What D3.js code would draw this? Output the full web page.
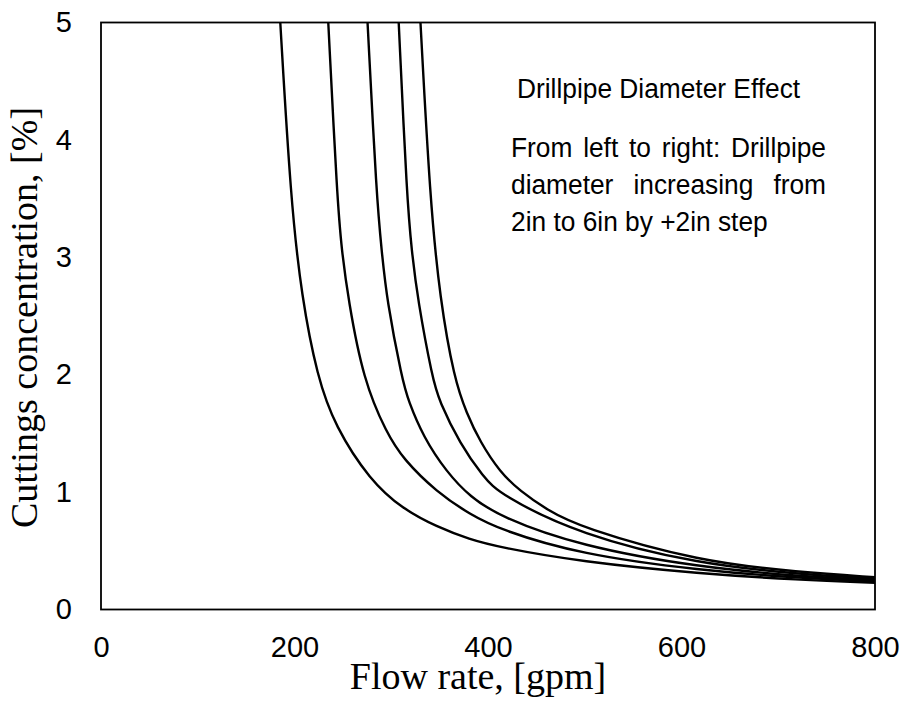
<!DOCTYPE html>
<html>
<head>
<meta charset="utf-8">
<script src="https://cdn.jsdelivr.net/npm/d3@7"></script>
<style>
  html, body { margin: 0; padding: 0; background: #fff; }
  svg { display: block; }
</style>
</head>
<body>
<svg id="chart" width="904" height="717"></svg>
<script>
// ---- data ----
const xTicks = [0, 200, 400, 600, 800];
const yTicks = [0, 1, 2, 3, 4, 5];

const q1 = [185.3, 196.1, 207.4, 223.6, 241.9, 278, 312, 347, 381, 412, 495, 619, 722, 800];
const c1 = [5.0, 3.49, 2.66, 1.98, 1.56, 1.10, 0.855, 0.705, 0.597, 0.53, 0.408, 0.305, 0.252, 0.228];

const q2 = [234.9, 244.2, 248.8, 255.6, 271.1, 295.3, 312.5, 347, 381.4, 412.4, 495, 619, 722, 800];
const c2 = [5.0, 3.49, 3.06, 2.64, 1.955, 1.50, 1.28, 1.00, 0.81, 0.68, 0.47, 0.333, 0.268, 0.24];

const q3 = [275.5, 285, 290.1, 295.3, 311.4, 317.6, 333.1, 357.3, 381.4, 412.4, 495, 619, 722, 800];
const c3 = [5.0, 3.49, 3.06, 2.64, 1.955, 1.78, 1.47, 1.17, 0.96, 0.79, 0.54, 0.359, 0.283, 0.25];

const q4 = [307.7, 316.3, 321.1, 327.3, 342.8, 349.4, 371, 395.1, 412.4, 495, 619, 722, 800];
const c4 = [5.0, 3.49, 3.06, 2.64, 1.96, 1.78, 1.41, 1.13, 0.98, 0.635, 0.385, 0.302, 0.262];

const q5 = [330.2, 340.1, 350.4, 365.2, 378, 391.7, 412.4, 433, 460.7, 495, 619, 722, 800];
const c5 = [5.0, 3.49, 2.64, 1.96, 1.67, 1.43, 1.17, 1.01, 0.85, 0.70, 0.407, 0.319, 0.275];

const seriesQ = [q1, q2, q3, q4, q5];
const seriesC = [c1, c2, c3, c4, c5];

const xTitle = "Flow rate, [gpm]";
const yTitle = "Cuttings concentration, [%]";
const noteTitle = "Drillpipe Diameter Effect";
const noteLines = ["From left to right: Drillpipe", "diameter increasing from", "2in to 6in by +2in step"];

// ---- layout ----
const L = 101, R = 875, T = 22.5, B = 609.5;
const svg = d3.select("#chart");
const x = d3.scaleLinear().domain([0, 800]).range([L, R]);
const y = d3.scaleLinear().domain([0, 5]).range([B, T]);

const sans = "'Liberation Sans', Arial, sans-serif";
const serif = "'Liberation Serif', 'Times New Roman', serif";

svg.append("defs").append("clipPath").attr("id", "plotclip")
  .append("rect").attr("x", L).attr("y", T).attr("width", R - L).attr("height", B - T);

// curves
const line = d3.line().x(d => x(d[0])).y(d => y(d[1])).curve(d3.curveBasis);
const gLines = svg.append("g").attr("clip-path", "url(#plotclip)");
seriesQ.forEach((qs, i) => {
  const pts = qs.map((q, j) => [q, seriesC[i][j]]);
  gLines.append("path").datum(pts)
    .attr("d", line)
    .attr("fill", "none")
    .attr("stroke", "#000")
    .attr("stroke-width", 2.4);
});

// frame
svg.append("rect").attr("x", L).attr("y", T).attr("width", R - L).attr("height", B - T)
  .attr("fill", "none").attr("stroke", "#000").attr("stroke-width", 1.8);

// axes
const xAxis = svg.append("g").attr("transform", `translate(0,${B})`)
  .call(d3.axisBottom(x).tickValues(xTicks).tickSize(0).tickPadding(27).tickFormat(d3.format("d")));
const yAxis = svg.append("g").attr("transform", `translate(${L},0)`)
  .call(d3.axisLeft(y).tickValues(yTicks).tickSize(0).tickPadding(29).tickFormat(d3.format("d")));
[xAxis, yAxis].forEach(g => {
  g.select(".domain").remove();
  g.selectAll("text").attr("font-family", sans).attr("font-size", 29).attr("fill", "#000");
});

// axis titles
svg.append("text").attr("x", 478).attr("y", 689)
  .attr("text-anchor", "middle").attr("font-family", serif).attr("font-size", 38)
  .attr("fill", "#000").text(xTitle);
svg.append("text").attr("transform", "translate(37,528) rotate(-90)")
  .attr("text-anchor", "start").attr("font-family", serif).attr("font-size", 38)
  .attr("fill", "#000").text(yTitle);

// annotation
const sx = 0.94, fs = 28;
svg.append("text").attr("transform", `translate(517,97.5) scale(${sx},1)`)
  .attr("font-family", sans).attr("font-size", fs).attr("fill", "#000").text(noteTitle);

const noteX = 511, noteR = 826;
const baselines = [156.5, 193.5, 230.5];
noteLines.forEach((ln, i) => {
  const g = svg.append("g").attr("transform", `translate(${noteX},${baselines[i]}) scale(${sx},1)`);
  const words = ln.split(" ");
  if (i < noteLines.length - 1) {
    const nodes = words.map(w => g.append("text").attr("font-family", sans).attr("font-size", fs)
      .attr("fill", "#000").text(w));
    const widths = nodes.map(n => n.node().getComputedTextLength());
    const total = d3.sum(widths);
    const W = (noteR - noteX) / sx;
    const gap = (W - total) / (words.length - 1);
    let cx = 0;
    nodes.forEach((n, k) => { n.attr("x", cx); cx += widths[k] + gap; });
  } else {
    g.append("text").attr("font-family", sans).attr("font-size", fs).attr("fill", "#000").text(ln);
  }
});
</script>
</body>
</html>
